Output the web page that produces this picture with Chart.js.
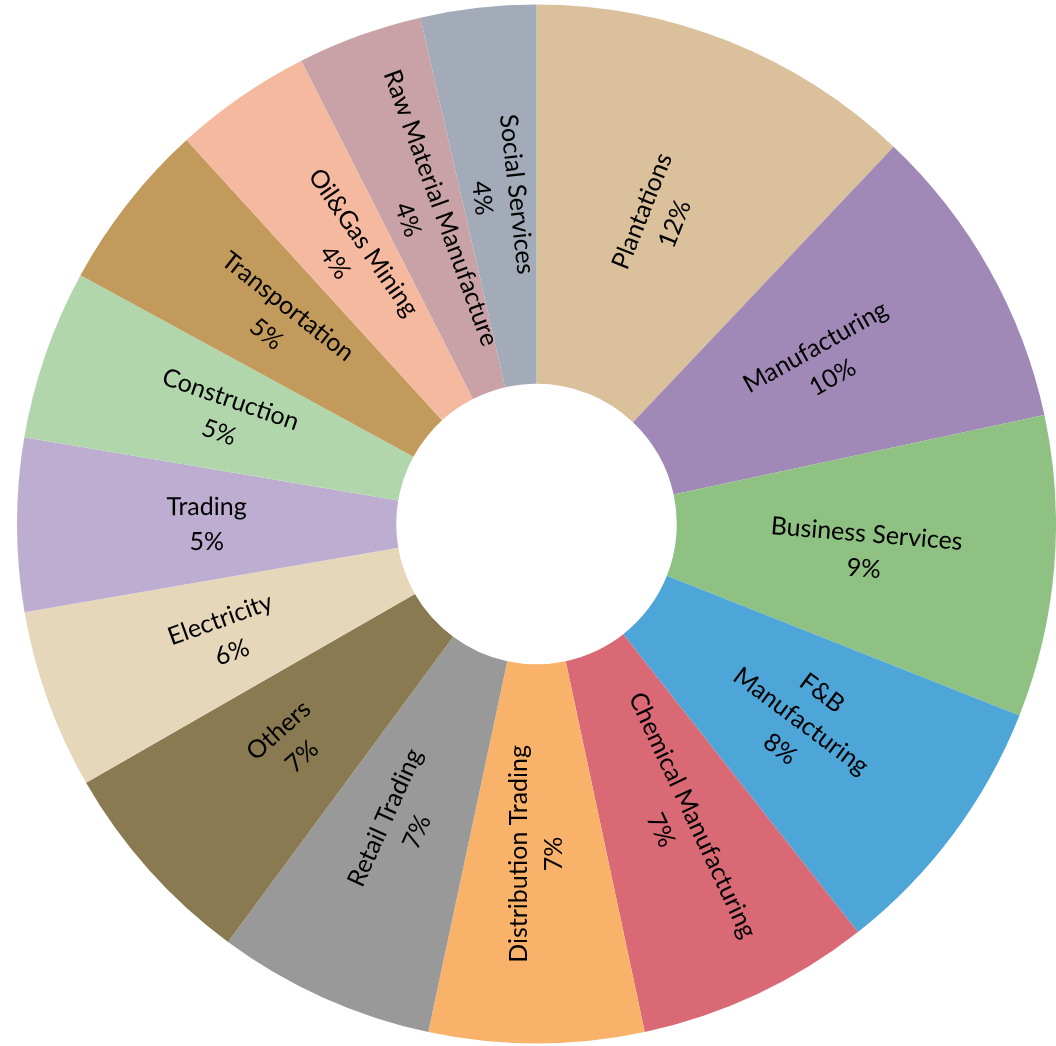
<!DOCTYPE html>
<html>
<head>
<meta charset="utf-8">
<script src="https://cdn.jsdelivr.net/npm/chart.js@4.4.1/dist/chart.umd.min.js"></script>
<style>
  html, body { margin: 0; padding: 0; background: #fff; }
  #wrap { width: 1056px; height: 1046px; position: relative; }
</style>
</head>
<body>
<div id="wrap"><canvas id="sectorChart"></canvas></div>
<script>
// Sector breakdown (share of total, %)
const categories = [
    'Plantations', 'Manufacturing', 'Business Services', 'F&B\nManufacturing',
    'Chemical Manufacturing', 'Distribution Trading', 'Retail Trading', 'Others',
    'Electricity', 'Trading', 'Construction', 'Transportation',
    'Oil&Gas Mining', 'Raw Material Manufacture', 'Social Services'
];
const shares = [12.1, 9.6, 9.4, 8.4, 7.3, 6.7, 6.8, 6.6, 5.6, 5.4, 5.3, 5.3, 4.3, 3.9, 3.6];
const sliceColors = [
    '#DAC19C', '#A189B7', '#8FC183', '#4EA5D8',
    '#D96A75', '#F8B26A', '#999999', '#8A7A51',
    '#E6D6BA', '#BDAED1', '#B2D6AB', '#C29A5B',
    '#F5B9A0', '#C8A2A6', '#A2ABB7'
];

const total = shares.reduce((a, b) => a + b, 0);

// Draws the category + percent text rotated along each slice
const radialLabels = {
    id: 'radialLabels',
    afterDatasetsDraw(chart) {
        const ctx = chart.ctx;
        const meta = chart.getDatasetMeta(0);
        ctx.save();
        ctx.fillStyle = '#000';
        ctx.font = '25px Lato';
        ctx.textAlign = 'center';
        ctx.textBaseline = 'middle';
        const lineH = 35;
        meta.data.forEach((arc, i) => {
            const p = arc.getProps(['x', 'y', 'startAngle', 'endAngle', 'innerRadius', 'outerRadius'], true);
            const mid = (p.startAngle + p.endAngle) / 2;
            const r = (p.innerRadius + p.outerRadius) / 2;
            const cx = p.x + Math.cos(mid) * r;
            const cy = p.y + Math.sin(mid) * r;
            // keep text upright
            let rot = Math.atan2(Math.sin(mid), Math.cos(mid));
            if (rot > Math.PI / 2 || rot < -Math.PI / 2) rot += Math.PI;
            const lines = categories[i].split('\n');
            lines.push(Math.round(shares[i] / total * 100) + '%');
            ctx.save();
            ctx.translate(cx, cy);
            ctx.rotate(rot);
            const top = -(lines.length - 1) * lineH / 2;
            lines.forEach((txt, k) => ctx.fillText(txt, 0, top + k * lineH));
            ctx.restore();
        });
        ctx.restore();
    }
};

new Chart(document.getElementById('sectorChart'), {
    type: 'doughnut',
    data: {
        labels: categories,
        datasets: [{
            data: shares,
            backgroundColor: sliceColors,
            borderWidth: 0
        }]
    },
    options: {
        responsive: true,
        maintainAspectRatio: false,
        animation: false,
        cutout: '27%',
        layout: { padding: { left: 17, right: 0, top: 4, bottom: 2 } },
        plugins: {
            legend: { display: false },
            tooltip: { enabled: false }
        }
    },
    plugins: [radialLabels]
});
</script>
</body>
</html>
